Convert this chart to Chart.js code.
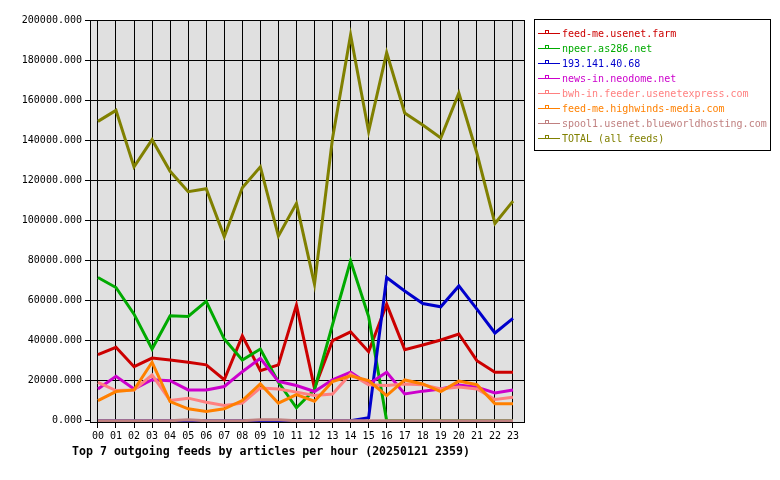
<!DOCTYPE html>
<html>
<head>
<meta charset="utf-8">
<script src="https://cdn.jsdelivr.net/npm/chart.js@4.4.1/dist/chart.umd.min.js"></script>
<style>
html, body { margin: 0; padding: 0; background: #ffffff; }
#myChart { display: block; }
</style>
</head>
<body>
<canvas id="myChart" width="780" height="480"></canvas>
<script>
// hours of the day (x axis)
let hours = ['00', '01', '02', '03', '04', '05', '06', '07', '08', '09', '10', '11',
             '12', '13', '14', '15', '16', '17', '18', '19', '20', '21', '22', '23'];
// articles per hour
let feedme_farm = [33000, 36700, 27000, 31300, 30300, 29200, 27900, 20500, 42400, 25000, 27900, 57700,
                   16300, 40000, 44400, 34500, 58200, 35500, 37800, 40300, 43300, 30000, 24200, 24200];
let npeer = [71500, 66500, 53200, 35800, 52400, 52100, 59600, 40800, 30300, 35800, 19200, 6500,
             15500, 48000, 79800, 52000, 0, 0, 0, 0, 0, 0, 0, 0];
let ip_193 = [0, 0, 0, 0, 0, 0, 0, 0, 0, 0, 0, 0,
              0, 0, 0, 1500, 71500, 64800, 58500, 56900, 67300, 55700, 43800, 51100];
let neodome = [15900, 22200, 15900, 20500, 20000, 15400, 15400, 17100, 24500, 31200, 19600, 17600,
               14600, 20500, 24200, 18400, 24200, 13400, 14800, 15900, 17900, 16800, 13900, 15400];
let usenetexpress = [19200, 15100, 15400, 22900, 10100, 11300, 9300, 7600, 8800, 16400, 15900, 14300,
                     12600, 13400, 23400, 18000, 17600, 18400, 18000, 15900, 16800, 15900, 10600, 11800];
let highwinds = [10100, 14600, 15400, 29200, 9600, 6000, 4600, 6000, 10100, 18400, 8800, 13100,
                 9800, 19600, 22500, 20000, 12600, 20400, 18400, 14600, 19800, 18000, 8500, 8500];
let blueworld = [0, 0, 0, 0, 0, 500, 0, 0, 0, 500, 500, 0,
                 0, 0, 0, 0, 0, 0, 0, 0, 0, 0, 0, 0];
let total = [149400, 154900, 126700, 140300, 124500, 114300, 115800, 91900, 116300, 126700, 92200, 108500,
             68200, 141000, 192500, 144400, 183700, 153600, 147600, 141100, 163500, 133500, 98500, 109600];

let feed_names = ['feed-me.usenet.farm', 'npeer.as286.net', '193.141.40.68', 'news-in.neodome.net',
                  'bwh-in.feeder.usenetexpress.com', 'feed-me.highwinds-media.com',
                  'spool1.usenet.blueworldhosting.com', 'TOTAL (all feeds)'];
let feed_colors = ['#cc0000', '#00aa00', '#0000cc', '#cc00cc', '#ff8080', '#ff8000', '#c08080', '#808000'];
let feed_values = [feedme_farm, npeer, ip_193, neodome, usenetexpress, highwinds, blueworld, total];

let y_ticks = [0, 20000, 40000, 60000, 80000, 100000, 120000, 140000, 160000, 180000, 200000];
let chart_title = 'Top 7 outgoing feeds by articles per hour (20250121 2359)';

const mono = '"DejaVu Sans Mono", "Liberation Mono", monospace';

// gray plot box, outer frame, legend box and the caption under the axis
const plotBox = {
    id: 'plotBox',
    beforeDraw(chart) {
        const ctx = chart.ctx, a = chart.chartArea;
        ctx.save();
        ctx.fillStyle = '#ffffff';
        ctx.fillRect(0, 0, chart.width, chart.height);
        ctx.fillStyle = '#e0e0e0';
        ctx.fillRect(a.left, a.top, a.right - a.left, a.bottom - a.top);
        ctx.restore();
    },
    afterDraw(chart) {
        const ctx = chart.ctx, a = chart.chartArea;
        ctx.save();
        ctx.strokeStyle = '#000000';
        ctx.lineWidth = 1;
        ctx.strokeRect(Math.round(a.left) + 0.5, Math.round(a.top) + 0.5,
                       Math.round(a.right - a.left), Math.round(a.bottom - a.top));

        // legend
        ctx.strokeRect(534.5, 19.5, 236, 131);
        ctx.font = '10px ' + mono;
        ctx.textBaseline = 'middle';
        ctx.textAlign = 'left';
        chart.data.datasets.forEach((ds, i) => {
            const y = 33 + 15 * i;
            ctx.strokeStyle = ds.borderColor;
            ctx.beginPath();
            ctx.moveTo(538, y + 0.5);
            ctx.lineTo(560, y + 0.5);
            ctx.stroke();
            ctx.fillStyle = '#ffffff';
            ctx.fillRect(546, y - 2, 2, 2);
            ctx.strokeRect(545.5, y - 2.5, 3, 3);
            ctx.fillStyle = ds.borderColor;
            ctx.fillText(ds.label, 562, y + 1);
        });

        ctx.fillStyle = '#000000';
        ctx.font = 'bold 11.6px ' + mono;
        ctx.fillText(chart_title, 72, 452);
        ctx.restore();
    }
};

let datasets = [];
for (let i = 0; i < feed_names.length; i++) {
    datasets.push({
        label: feed_names[i],
        data: feed_values[i],
        borderColor: feed_colors[i],
        backgroundColor: feed_colors[i],
        borderWidth: 3,
        pointRadius: 0,
        tension: 0,
        fill: false,
        clip: false,
        order: feed_names.length - i   // later feeds drawn on top
    });
}

var ctx = document.getElementById('myChart');
var chart = new Chart(ctx, {
    type: 'line',
    data: {
        labels: hours.map((h, i) => i),
        datasets: datasets
    },
    plugins: [plotBox],
    options: {
        responsive: false,
        animation: false,
        events: [],
        layout: { padding: { top: 20, right: 256, left: 0, bottom: 0 } },
        plugins: {
            legend: { display: false },
            title: { display: false },
            tooltip: { enabled: false }
        },
        scales: {
            x: {
                type: 'linear',
                min: -0.44,
                max: 23.61,
                afterBuildTicks: (scale) => { scale.ticks = hours.map((h, i) => ({ value: i })); },
                afterFit: (scale) => { scale.height = 58; },
                border: { display: false },
                grid: { color: '#000000', lineWidth: 1, tickColor: '#000000', tickLength: 6 },
                ticks: {
                    autoSkip: false,
                    maxRotation: 0,
                    padding: 2,
                    color: '#000000',
                    font: { family: mono, size: 10 },
                    callback: (v) => hours[v]
                }
            },
            y: {
                min: -600,
                max: 200000,
                afterBuildTicks: (scale) => { scale.ticks = y_ticks.map(v => ({ value: v })); },
                afterFit: (scale) => { scale.width = 90; },
                border: { display: false },
                grid: {
                    // the frame already draws the zero line
                    color: (c) => (c.tick && c.tick.value === 0) ? 'rgba(0,0,0,0)' : '#000000',
                    lineWidth: 1,
                    tickColor: '#000000',
                    tickLength: 5
                },
                ticks: {
                    padding: 3,
                    color: '#000000',
                    font: { family: mono, size: 10 },
                    callback: (v) => v.toFixed(3)
                }
            }
        }
    }
});
</script>
</body>
</html>
